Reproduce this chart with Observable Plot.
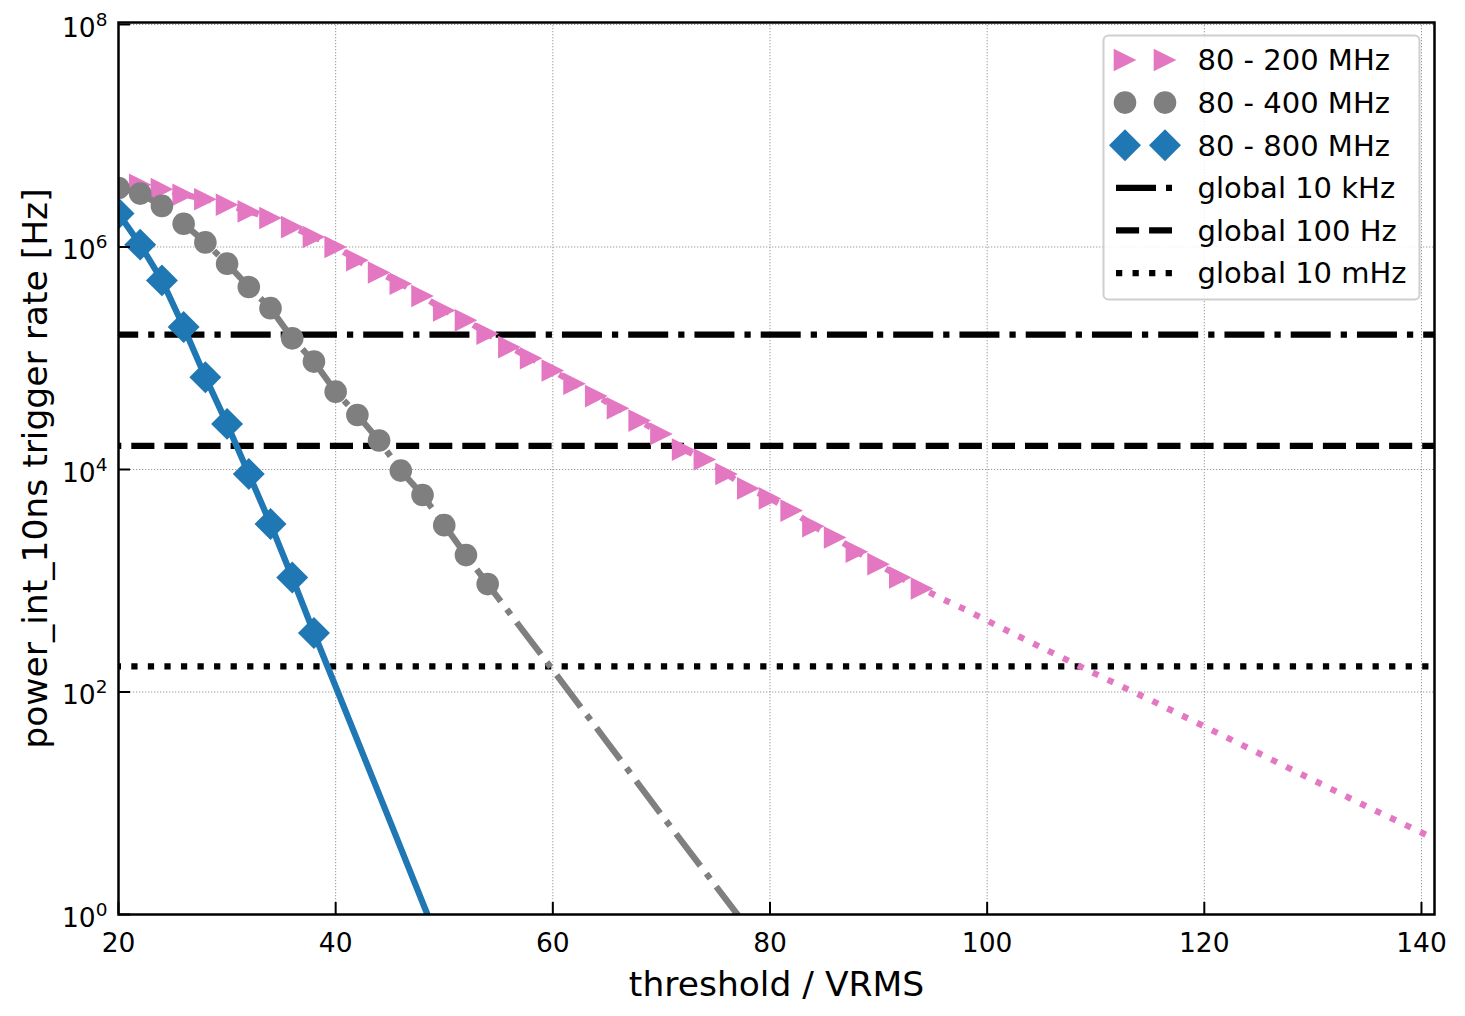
<!DOCTYPE html>
<html>
<head>
<meta charset="utf-8">
<script src="https://cdn.jsdelivr.net/npm/d3@7"></script>
<script src="https://cdn.jsdelivr.net/npm/@observablehq/plot@0.6"></script>
<style>
  body { margin: 0; background: #fff; }
  #chart { position: relative; width: 1465px; height: 1016px; }
</style>
</head>
<body>
<div id="chart"></div>
<script>
// ---------------- data ----------------
const xTicks = [20, 40, 60, 80, 100, 120, 140];
const yTicks = [1, 1e2, 1e4, 1e6, 1e8];
const xDomain = [20, 141.2];
const yDomain = [1, 1.042e8];

// 80 - 200 MHz : markers
const pinkX = [22, 24, 26, 28, 30, 32, 34, 36, 38, 40, 42, 44, 46, 48, 50, 52, 54, 56, 58, 60,
               62, 64, 66, 68, 70, 72, 74, 76, 78, 80, 82, 84, 86, 88, 90, 92, 94];
const pinkRate = [3.63e6, 3.31e6, 2.95e6, 2.69e6, 2.40e6, 2.09e6, 1.82e6, 1.51e6, 1.23e6, 1.00e6,
                  7.59e5, 5.89e5, 4.68e5, 3.63e5, 2.69e5, 2.19e5, 1.66e5, 1.26e5, 1.00e5, 7.76e4,
                  5.89e4, 4.57e4, 3.55e4, 2.75e4, 2.09e4, 1.51e4, 1.23e4, 9.12e3, 6.76e3, 5.50e3,
                  4.27e3, 3.09e3, 2.45e3, 1.82e3, 1.41e3, 1.07e3, 851];
// 80 - 200 MHz : continuation of the curve (line only)
const pinkTailX = [96, 98, 100, 105, 110, 115, 120, 125, 130, 135, 141.2];
const pinkTailRate = [676, 550, 437, 251, 145, 85, 49, 28.2, 16.2, 9.3, 4.8];

// 80 - 400 MHz
const grayX = [20, 22, 24, 26, 28, 30, 32, 34, 36, 38, 40, 42, 44, 46, 48, 50, 52, 54];
const grayRate = [3.39e6, 3.02e6, 2.34e6, 1.62e6, 1.10e6, 7.08e5, 4.37e5, 2.82e5, 1.51e5, 9.33e4,
                  5.01e4, 3.09e4, 1.82e4, 9.77e3, 5.89e3, 3.16e3, 1.70e3, 933];
const grayTailX = [60, 65, 70, 77, 80];
const grayTailRate = [158, 35.5, 7.9, 1.0, 0.41];

// 80 - 800 MHz
const blueX = [20, 22, 24, 26, 28, 30, 32, 34, 36, 38];
const blueRate = [2.00e6, 1.05e6, 5.01e5, 1.91e5, 6.76e4, 2.57e4, 9.12e3, 3.24e3, 1.07e3, 339];
const blueTailX = [40, 45, 48.45, 50];
const blueTailRate = [112, 6.9, 1.0, 0.42];

// global trigger levels
const globalRates = [1.63e5, 1.63e4, 170];
const seriesLabels = ["80 - 200 MHz", "80 - 400 MHz", "80 - 800 MHz"];
const globalLabels = ["global 10 kHz", "global 100 Hz", "global 10 mHz"];
const xLabel = "threshold / VRMS";
const yLabel = "power_int_10ns trigger rate [Hz]";

// ---------------- styles ----------------
const W = 1465, H = 1016, ML = 118, MR = 31, MT = 22, MB = 102;
const FW = W - ML - MR, FH = H - MT - MB;
const PINK = "#e377c2", GRAY = "#7f7f7f", BLUE = "#1f77b4";
const LW = 6.25;
const DASHDOT = "40,10,6.25,10", DASHED = "23.1,10", DOTTED = "6.25,10.3";
const MR_SIZE = 11.3;
const TICK_FS = "26.5px";

const triRight = { draw(ctx, size) { const r = Math.sqrt(size / Math.PI);
  ctx.moveTo(r, 0); ctx.lineTo(-r, -r); ctx.lineTo(-r, r); ctx.closePath(); } };
const diamond = { draw(ctx, size) { const r = Math.sqrt(size / Math.PI) * 1.414;
  ctx.moveTo(0, -r); ctx.lineTo(r, 0); ctx.lineTo(0, r); ctx.lineTo(-r, 0); ctx.closePath(); } };

const pts = (xs, ys) => xs.map((x, i) => ({x, y: ys[i]}));
const pinkPts = pts(pinkX, pinkRate), grayPts = pts(grayX, grayRate), bluePts = pts(blueX, blueRate);
const pinkLine = pinkPts.concat(pts(pinkTailX, pinkTailRate));
const grayLine = grayPts.concat(pts(grayTailX, grayTailRate));
const blueLine = bluePts.concat(pts(blueTailX, blueTailRate));

const chart = Plot.plot({
  width: W, height: H,
  marginLeft: ML, marginRight: MR, marginTop: MT, marginBottom: MB,
  style: { fontFamily: "DejaVu Sans", fontSize: TICK_FS, background: "white", color: "black", overflow: "visible" },
  x: { domain: xDomain, ticks: xTicks },
  y: { type: "log", domain: yDomain, ticks: yTicks },
  marks: [
    Plot.gridX(xTicks, { stroke: "#9a9a9a", strokeOpacity: 1, strokeWidth: 1, strokeDasharray: "1.3,1.7" }),
    Plot.gridY(yTicks, { stroke: "#9a9a9a", strokeOpacity: 1, strokeWidth: 1, strokeDasharray: "1.3,1.7" }),
    Plot.ruleY([globalRates[0]], { y: d => d, stroke: "black", strokeWidth: LW, strokeDasharray: DASHDOT, strokeDashoffset: 19.8, strokeLinecap: "butt" }),
    Plot.ruleY([globalRates[1]], { y: d => d, stroke: "black", strokeWidth: LW, strokeDasharray: DASHED, strokeDashoffset: 19.8, strokeLinecap: "butt" }),
    Plot.ruleY([globalRates[2]], { y: d => d, stroke: "black", strokeWidth: LW, strokeDasharray: DOTTED, strokeDashoffset: 19.8, strokeLinecap: "butt" }),
    Plot.line(pinkLine, { x: "x", y: "y", stroke: PINK, strokeWidth: LW, strokeDasharray: DOTTED, strokeLinecap: "butt", clip: true }),
    Plot.dot(pinkPts, { x: "x", y: "y", symbol: triRight, r: MR_SIZE, fill: PINK, stroke: "none", clip: true }),
    Plot.line(grayLine, { x: "x", y: "y", stroke: GRAY, strokeWidth: LW, strokeDasharray: DASHDOT, strokeLinecap: "butt", clip: true }),
    Plot.dot(grayPts, { x: "x", y: "y", r: MR_SIZE, fill: GRAY, stroke: "none", clip: true }),
    Plot.line(blueLine, { x: "x", y: "y", stroke: BLUE, strokeWidth: LW, strokeLinecap: "butt", clip: true }),
    Plot.dot(bluePts, { x: "x", y: "y", symbol: diamond, r: MR_SIZE, fill: BLUE, stroke: "none", clip: true }),
    Plot.frame({ stroke: "black", strokeWidth: 2.5 }),
    Plot.tickY(yTicks, { y: d => d, insetRight: FW - 12, stroke: "black", strokeWidth: 2 }),
    Plot.tickX(xTicks, { x: d => d, insetTop: FH - 12, stroke: "black", strokeWidth: 2 }),
    Plot.axisX(xTicks, { tickSize: 0, tickPadding: 19, label: null }),
    Plot.axisY(yTicks, { tickSize: 0, tickPadding: 11, label: null,
      tickFormat: d => "10^" + Math.round(Math.log10(d)) }),
    Plot.text([xLabel], { text: d => d, frameAnchor: "bottom", dy: 70, fontSize: 34.5, lineAnchor: "middle", textAnchor: "middle" }),
    Plot.text([yLabel], { text: d => d, frameAnchor: "left", dx: -83, rotate: -90, fontSize: 34.5, lineAnchor: "middle", textAnchor: "middle" })
  ]
});

document.getElementById("chart").appendChild(chart);
const svg = d3.select(chart);

// tick label font size
svg.selectAll('g[aria-label="x-axis tick label"], g[aria-label="y-axis tick label"]')
  .attr("font-size", TICK_FS).style("font-size", TICK_FS);

// superscript exponents on the y tick labels
svg.selectAll('g[aria-label="y-axis tick label"] text').each(function() {
  const t = this.textContent;
  if (t.includes("^")) {
    const [base, exp] = t.split("^");
    const sel = d3.select(this);
    sel.text(base).attr("dy", 4);
    sel.append("tspan").attr("dy", -11).style("font-size", "18.5px").text(exp);
  }
});

// legend (inside the plot, upper right)
const lg = svg.append("g").attr("transform", "translate(1103.5,35.5)").attr("text-anchor", "start");
lg.append("rect").attr("width", 316).attr("height", 264).attr("rx", 5)
  .attr("fill", "white").attr("fill-opacity", 0.85).attr("stroke", "#cfcfcf").attr("stroke-width", 2);
const rowY = i => 24.5 + i * 42.6;
const symArea = Math.PI * MR_SIZE * MR_SIZE;
const legSymbols = [
  { type: triRight, color: PINK },
  { type: d3.symbolCircle, color: GRAY },
  { type: diamond, color: BLUE }
];
legSymbols.forEach((s, i) => {
  [21.5, 61.5].forEach(cx => {
    lg.append("path").attr("d", d3.symbol(s.type, symArea)())
      .attr("transform", `translate(${cx},${rowY(i)})`).attr("fill", s.color);
  });
  lg.append("text").attr("x", 94).attr("y", rowY(i)).attr("dy", "0.36em").attr("text-anchor", "start")
    .style("font-size", "29px").attr("fill", "black").text(seriesLabels[i]);
});
[DASHDOT, DASHED, DOTTED].forEach((dash, j) => {
  const i = j + 3;
  lg.append("line").attr("x1", 12.5).attr("x2", 68.5).attr("y1", rowY(i)).attr("y2", rowY(i))
    .attr("stroke", "black").attr("stroke-width", LW).attr("stroke-dasharray", dash);
  lg.append("text").attr("x", 94).attr("y", rowY(i)).attr("dy", "0.36em").attr("text-anchor", "start")
    .style("font-size", "29px").attr("fill", "black").text(globalLabels[j]);
});
</script>
</body>
</html>
